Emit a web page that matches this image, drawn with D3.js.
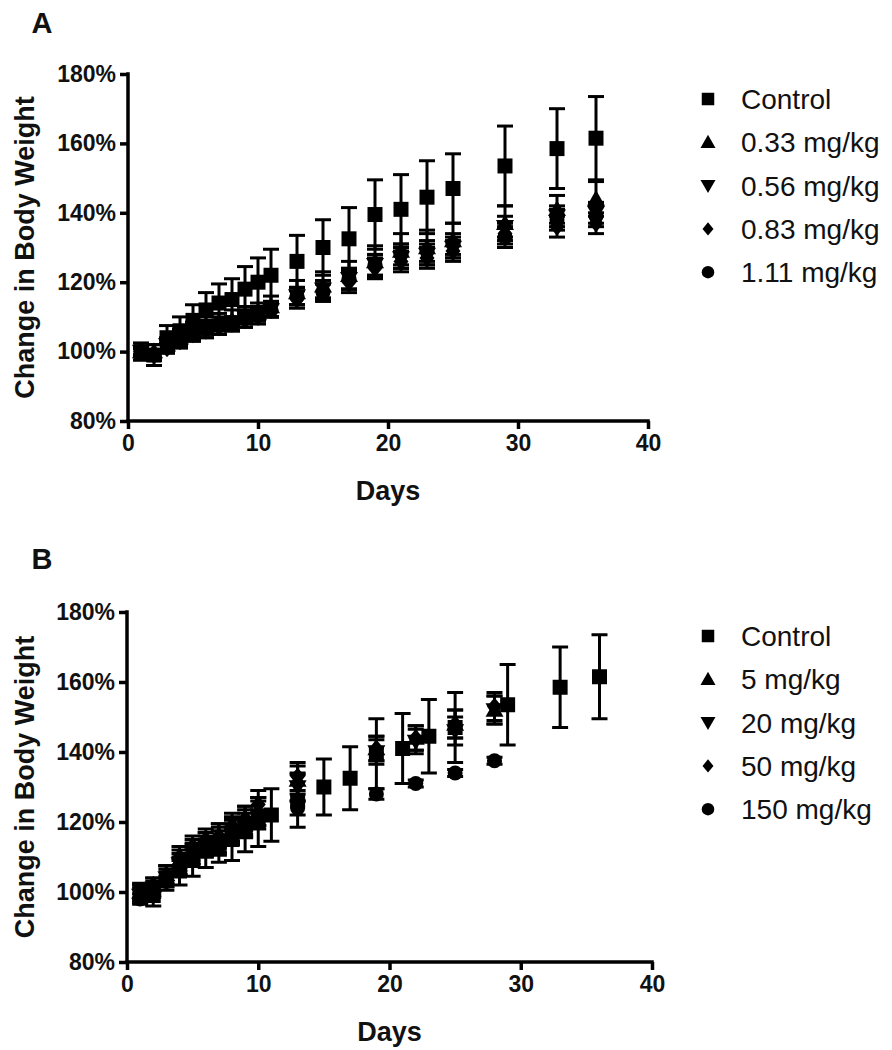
<!DOCTYPE html>
<html><head><meta charset="utf-8">
<script src="https://cdn.jsdelivr.net/npm/d3@7"></script>
<style>body{margin:0;background:#fff}svg{display:block}</style>
</head><body>
<script>
// ---------- Data ----------
const xTicks = [0, 10, 20, 30, 40];
const yTicks = [80, 100, 120, 140, 160, 180];

const daysA = [1,2,3,4,5,6,7,8,9,10,11,13,15,17,19,21,23,25,29,33,36];
const controlA = [100,99,104,106,109,112,114,115,118,120,122,126,130,132.5,139.5,141,144.5,147,153.5,158.5,161.5];
const controlErrA = [2.5,3,3.5,4,4.5,5,5.5,6,6.5,7,7.5,7.5,8,9,10,10,10.5,10,11.5,11.5,12];
const a033 = [100,100,102,104,106,107,108,109,110,111,113,117,119,122,126,129,130,132,137,141,144];
const a056 = [100,99,102,104,105,107,107,108,110,111,112,116,118,121,125,127,128,130,136,139,140];
const a083 = [100,99,101,103,105,106,107,108,109,110,112,115,117,120,124,126,127,129,134,136,137];
const a111 = [100,99,102,104,106,107,108,108,110,111,112,116,117,121,125,128,129,131,133,138,139];
const errA033 = [1.5,2,2,2.5,2.5,3,3,3,3,3,3,3.5,4,4,4.5,5,5,5,5,4,5];
const errA = [1,1.5,1.5,2,2,2,2,2,2,2,2,2.5,2.5,3,3,3,3,3,3,3,3];

const daysB = [1,2,3,4,5,6,7,8,9,10,13,19,22,25,28];
const b5   = [100,102,105,109,112,114,115,118,120,123,132,141,144,148,152];
const b20  = [99,101,104,108,111,113,114,117,119,122,130,140,143,146,152];
const b50  = [100,102,105,110,113,115,116,119,121,125,133,141,144,148,153];
const b150 = [98,100,103,107,110,112,113,116,118,121,124,128,131,134,137.5];
const errB = [2,2,2.5,3,3,3,3.5,3.5,3.5,4,4,3.5,3.5,4,4];
const errB150 = [1.5,1.5,1.5,2,2,2,2,2,2,2,2,1.5,1,1,1];

const legendA = ["Control","0.33 mg/kg","0.56 mg/kg","0.83 mg/kg","1.11 mg/kg"];
const legendB = ["Control","5 mg/kg","20 mg/kg","50 mg/kg","150 mg/kg"];
const shapes = ["square","triUp","triDown","diamond","circle"];

// ---------- Drawing ----------
const W = 892, H = 1050;
const svg = d3.select("body").append("svg").attr("width", W).attr("height", H);
const FONT = "'Liberation Sans', Arial, Helvetica, sans-serif";

function shapePath(type, s) {
  switch (type) {
    case "square": return `M${-s/2},${-s/2}h${s}v${s}h${-s}Z`;
    case "triUp": return `M0,${-s*0.6}L${s*0.6},${s*0.45}L${-s*0.6},${s*0.45}Z`;
    case "triDown": return `M0,${s*0.6}L${s*0.6},${-s*0.45}L${-s*0.6},${-s*0.45}Z`;
    case "diamond": return `M0,${-s*0.6}L${s*0.5},0L0,${s*0.6}L${-s*0.5},0Z`;
    case "circle": { const r = s/2; return `M${r},0A${r},${r} 0 1,1 ${-r},0A${r},${r} 0 1,1 ${r},0Z`; }
  }
}

function panel(opts) {
  const g = svg.append("g");
  const x = d3.scaleLinear().domain([0, 40]).range([opts.x0, opts.x1]);
  const y = d3.scaleLinear().domain([80, 180]).range([opts.yb, opts.yt]);

  const xAxis = d3.axisBottom(x).tickValues(xTicks).tickSize(8).tickPadding(5);
  const yAxis = d3.axisLeft(y).tickValues(yTicks).tickSize(8).tickPadding(4).tickFormat(d => d + "%");
  const gx = g.append("g").attr("transform", `translate(0,${opts.yb})`).call(xAxis);
  const gy = g.append("g").attr("transform", `translate(${opts.x0},0)`).call(yAxis);
  [gx, gy].forEach(a => {
    a.select(".domain").attr("stroke", "#000").attr("stroke-width", 3.5);
    a.selectAll(".tick line").attr("stroke", "#000").attr("stroke-width", 3.5);
    a.selectAll("text").attr("fill", "#111").style("font-family", FONT)
      .style("font-weight", "bold").style("font-size", "23px");
  });
  gx.select(".domain").attr("d", `M${opts.x0 - 1.75},0H${opts.x1 + 1.75}`);
  gy.select(".domain").attr("d", `M0,${opts.yt - 1.75}V${opts.yb}`);
  gx.selectAll(".tick text").attr("dy", "0.75em");

  g.append("text").attr("x", (opts.x0 + opts.x1) / 2).attr("y", opts.yb + 79)
    .attr("text-anchor", "middle").style("font-family", FONT).style("font-weight", "bold")
    .style("font-size", "27px").attr("fill", "#111").text("Days");
  g.append("text").attr("transform", `translate(34,${(opts.yt + opts.yb) / 2}) rotate(-90)`)
    .attr("text-anchor", "middle").style("font-family", FONT).style("font-weight", "bold")
    .style("font-size", "27px").attr("fill", "#111").text("Change in Body Weight");
  g.append("text").attr("x", 42).attr("y", opts.labelY)
    .attr("text-anchor", "middle").style("font-family", FONT).style("font-weight", "bold")
    .style("font-size", "29px").attr("fill", "#111").text(opts.label);

  const order = [1, 2, 3, 4, 0];
  order.forEach(si => {
    const s = opts.series[si];
    const pts = s.days.map((d, i) => ({d, v: s.vals[i], e: s.errs[i]}));
    const eb = g.append("g").attr("stroke", "#000").attr("stroke-width", 3).attr("fill", "none");
    pts.forEach(p => {
      if (!p.e) return;
      const cx = x(p.d), y1 = y(p.v + p.e), y2 = y(p.v - p.e);
      eb.append("line").attr("x1", cx).attr("x2", cx).attr("y1", y1).attr("y2", y2);
      eb.append("line").attr("x1", cx - 8).attr("x2", cx + 8).attr("y1", y1).attr("y2", y1);
      eb.append("line").attr("x1", cx - 8).attr("x2", cx + 8).attr("y1", y2).attr("y2", y2);
    });
    g.append("g").selectAll("path").data(pts).join("path")
      .attr("transform", p => `translate(${x(p.d)},${y(p.v)})`)
      .attr("d", shapePath(shapes[si], si === 0 ? 15 : 15))
      .attr("fill", "#000");
  });

  const lg = g.append("g");
  opts.legend.forEach((name, i) => {
    const cy = opts.legY + i * opts.legStep;
    lg.append("path").attr("transform", `translate(708,${cy})`)
      .attr("d", shapePath(shapes[i], i === 3 ? 11 : 12.5)).attr("fill", "#000");
    lg.append("text").attr("x", 741).attr("y", cy).attr("dy", "0.36em")
      .style("font-family", FONT).style("font-size", "28px").attr("fill", "#111").text(name);
  });
}

panel({
  x0: 128, x1: 648, yt: 74, yb: 421, label: "A", labelY: 33,
  legY: 99, legStep: 43.3, legend: legendA,
  series: [
    {days: daysA, vals: controlA, errs: controlErrA},
    {days: daysA, vals: a033, errs: errA033},
    {days: daysA, vals: a056, errs: errA},
    {days: daysA, vals: a083, errs: errA},
    {days: daysA, vals: a111, errs: errA}
  ]
});

panel({
  x0: 127, x1: 652, yt: 612, yb: 962, label: "B", labelY: 569,
  legY: 636, legStep: 43.3, legend: legendB,
  series: [
    {days: daysA, vals: controlA, errs: controlErrA},
    {days: daysB, vals: b5, errs: errB},
    {days: daysB, vals: b20, errs: errB},
    {days: daysB, vals: b50, errs: errB},
    {days: daysB, vals: b150, errs: errB150}
  ]
});
</script>
</body></html>
